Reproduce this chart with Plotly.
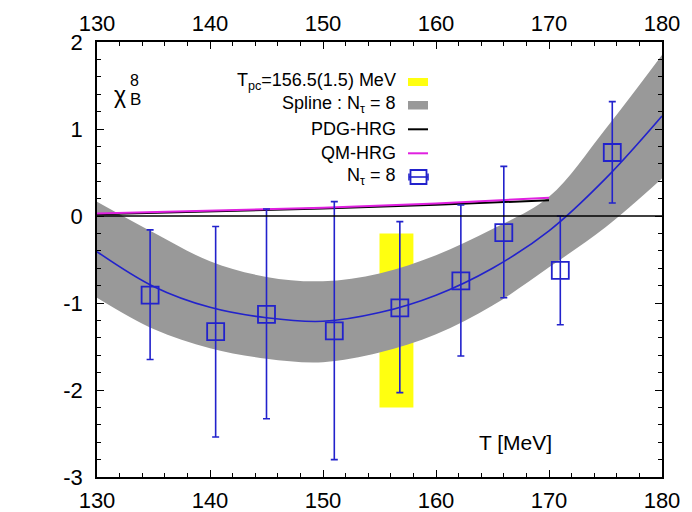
import plotly.graph_objects as go

# ---------------- data ----------------
T_pts = [134.7, 140.5, 145.0, 151.0, 156.8, 162.2, 166.0, 171.0, 175.6]
chi_pts = [-0.91, -1.33, -1.13, -1.32, -1.055, -0.745, -0.19, -0.625, 0.73]
chi_hi = [-0.16, -0.12, 0.08, 0.165, -0.065, 0.127, 0.57, 0.0, 1.315]
chi_lo = [-1.65, -2.54, -2.33, -2.80, -2.03, -1.61, -0.94, -1.25, 0.15]

T_spl = [130, 135, 140, 145, 150, 155, 160, 165, 170, 175, 180]
spl_c = [-0.41, -0.81, -1.05, -1.17, -1.21, -1.11, -0.91, -0.60, -0.17, 0.43, 1.15]
spl_hi = [0.165, -0.19, -0.52, -0.70, -0.75, -0.66, -0.45, -0.15, 0.22, 1.00, 1.85]
spl_lo = [-0.94, -1.30, -1.52, -1.64, -1.68, -1.57, -1.36, -1.03, -0.59, -0.13, 0.43]

T_hrg = [130, 140, 150, 160, 170]
pdg_hrg = [0.02, 0.05, 0.085, 0.13, 0.18]
qm_hrg = [0.03, 0.06, 0.095, 0.145, 0.21]

Tpc = 156.5
dTpc = 1.5
tpc_band_y = [-2.2, -0.2]

x_ticks = [130, 140, 150, 160, 170, 180]
y_ticks = [-3, -2, -1, 0, 1, 2]
y_ticktext = ["-3", "-2", "-1", "0", "1", "2"]

# ---------------- styling ----------------
BLUE = "#2222cc"
GRAY = "#999999"
YELLOW = "#ffff10"
MAGENTA = "#e020e0"
FONT = "Liberation Sans, Arial, Helvetica, sans-serif"

OFF = 8  # default body margin of the html page
W, H = 692 - OFF, 512 - OFF
L, R, T, B = 97 - OFF, 30, 42 - OFF, 35
PW, PH = W - L - R, H - T - B


def px(xp):
    """window pixel x -> paper coordinate"""
    return (xp - OFF - L) / PW


def py(yp):
    """window pixel y -> paper coordinate"""
    return (OFF + H - B - yp) / PH


fig = go.Figure()

# Tpc band
fig.add_trace(go.Scatter(
    x=[Tpc - dTpc, Tpc + dTpc, Tpc + dTpc, Tpc - dTpc],
    y=[tpc_band_y[0], tpc_band_y[0], tpc_band_y[1], tpc_band_y[1]],
    fill="toself", fillcolor=YELLOW, line=dict(width=0), mode="lines",
    hoverinfo="skip", showlegend=False))

# spline band
fig.add_trace(go.Scatter(x=T_spl, y=spl_lo, mode="lines",
                         line=dict(width=0, shape="spline", color=GRAY),
                         showlegend=False, hoverinfo="skip"))
fig.add_trace(go.Scatter(x=T_spl, y=spl_hi, mode="lines", fill="tonexty",
                         fillcolor=GRAY,
                         line=dict(width=0, shape="spline", color=GRAY),
                         showlegend=False, hoverinfo="skip"))

# HRG lines
fig.add_trace(go.Scatter(x=T_hrg, y=pdg_hrg, mode="lines",
                         line=dict(color="black", width=2),
                         showlegend=False))
fig.add_trace(go.Scatter(x=T_hrg, y=qm_hrg, mode="lines",
                         line=dict(color=MAGENTA, width=2),
                         showlegend=False))

# spline centre
fig.add_trace(go.Scatter(x=T_spl, y=spl_c, mode="lines",
                         line=dict(color=BLUE, width=1.6, shape="spline"),
                         showlegend=False))

# data points (on top axis so that the top tick labels are drawn)
err_p = [h - v for h, v in zip(chi_hi, chi_pts)]
err_m = [v - l for v, l in zip(chi_pts, chi_lo)]
fig.add_trace(go.Scatter(
    x=T_pts, y=chi_pts, mode="markers", xaxis="x2",
    marker=dict(symbol="square-open", size=17, color=BLUE,
                line=dict(color=BLUE, width=1.8)),
    error_y=dict(type="data", array=err_p, arrayminus=err_m,
                 color=BLUE, thickness=1.6, width=3.5),
    showlegend=False))

axis_common = dict(
    showline=True, linecolor="black", linewidth=1.5,
    ticks="inside", ticklen=7, tickwidth=1.2, tickcolor="black",
    showgrid=False, zeroline=False,
    tickfont=dict(family=FONT, size=22, color="black"),
)

fig.update_layout(
    width=W, height=H,
    margin=dict(l=L, r=R, t=T, b=B, pad=0, autoexpand=False),
    paper_bgcolor="white", plot_bgcolor="white",
    showlegend=False,
    xaxis=dict(range=[130, 180], tickvals=x_ticks, mirror="ticks",
               minor=dict(dtick=2, ticks="inside", ticklen=4, tickcolor="black", tickwidth=1),
               ticklabelstandoff=3, **axis_common),
    xaxis2=dict(range=[130, 180], tickvals=x_ticks, overlaying="x", side="top",
                showline=False, ticks="", showgrid=False, zeroline=False,
                tickfont=dict(family=FONT, size=22, color="black"),
                ticklabelstandoff=6),
    yaxis=dict(range=[-3, 2], tickvals=y_ticks, ticktext=y_ticktext, mirror="ticks",
               minor=dict(dtick=0.2, ticks="inside", ticklen=4, tickcolor="black", tickwidth=1),
               ticklabelstandoff=8, **axis_common),
)

# zero line
fig.add_shape(type="line", xref="paper", yref="y", x0=0, x1=1, y0=0, y1=0,
              line=dict(color="black", width=1.6), layer="above")


def label(text, xp, yp, size, xanchor="center"):
    fig.add_annotation(text=text, xref="paper", yref="paper", x=px(xp), y=py(yp),
                       xanchor=xanchor, yanchor="middle", showarrow=False,
                       borderpad=0,
                       font=dict(family=FONT, size=size, color="black"))


# axis label and observable label
label("T [MeV]", 515, 442, 21)
label("χ", 120, 95.5, 23)
label("B", 135.5, 99.5, 17)
label("8", 134.5, 80.5, 16)

# manual legend
leg_rows = [81.7, 105, 129.3, 153.3, 176.7]
leg_text = ["T<sub>pc</sub>=156.5(1.5) MeV", "Spline : N<sub>τ</sub> = 8",
            "PDG-HRG", "QM-HRG", "N<sub>τ</sub> = 8"]
for yy, tt in zip(leg_rows, leg_text):
    label(tt, 397, yy, 18, xanchor="right")

sx0, sx1 = px(408), px(428)
fig.add_shape(type="rect", xref="paper", yref="paper", x0=sx0, x1=sx1,
              y0=py(86), y1=py(78), fillcolor=YELLOW, line=dict(width=0))
fig.add_shape(type="rect", xref="paper", yref="paper", x0=sx0, x1=sx1,
              y0=py(109.5), y1=py(101), fillcolor=GRAY, line=dict(width=0))
fig.add_shape(type="line", xref="paper", yref="paper", x0=sx0, x1=sx1,
              y0=py(129.3), y1=py(129.3), line=dict(color="black", width=2))
fig.add_shape(type="line", xref="paper", yref="paper", x0=sx0, x1=sx1,
              y0=py(153.3), y1=py(153.3), line=dict(color=MAGENTA, width=2))
fig.add_shape(type="rect", xref="paper", yref="paper", x0=px(410.5), x1=px(426.5),
              y0=py(184), y1=py(170), line=dict(color=BLUE, width=1.8))
fig.add_shape(type="line", xref="paper", yref="paper", x0=px(409), x1=px(428),
              y0=py(177), y1=py(177), line=dict(color=BLUE, width=1.6))
for xe in (409, 428):
    fig.add_shape(type="line", xref="paper", yref="paper", x0=px(xe), x1=px(xe),
                  y0=py(173.5), y1=py(180.5), line=dict(color=BLUE, width=1.6))

fig.write_html("out.html")
